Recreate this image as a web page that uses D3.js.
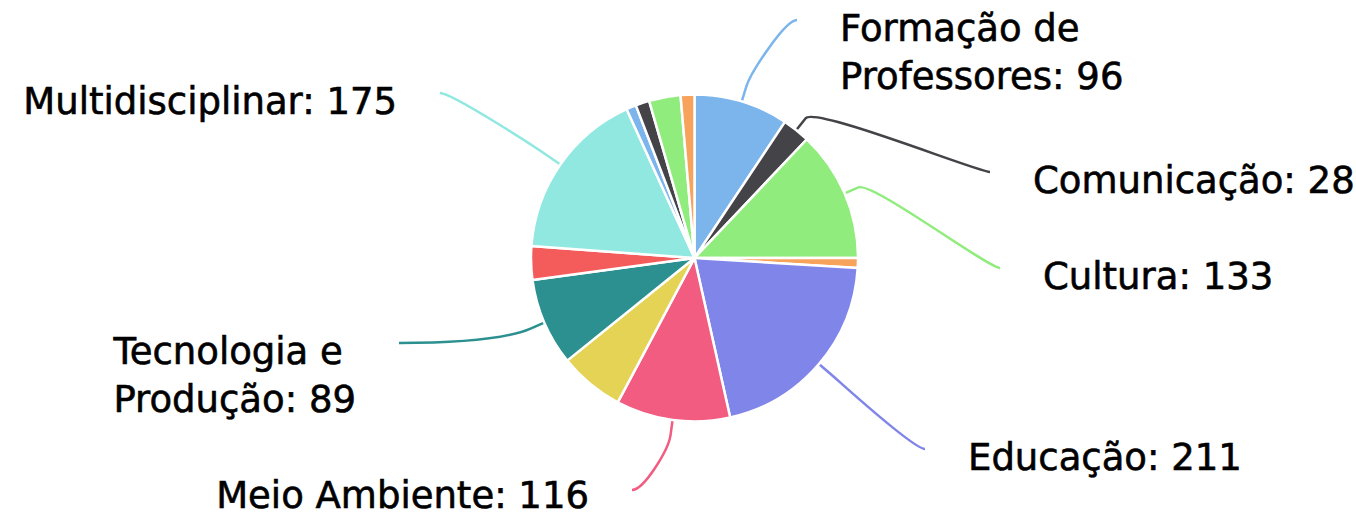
<!DOCTYPE html>
<html lang="pt-BR">
<head>
<meta charset="utf-8">
<script src="https://cdn.jsdelivr.net/npm/d3@7"></script>
<style>
  html, body { margin: 0; padding: 0; background: #fff; }
  svg { display: block; }
  .lbl { font-family: "DejaVu Sans", Verdana, sans-serif; font-size: 37px; fill: #000;
         stroke: #000; stroke-width: 0.6px; }
</style>
</head>
<body>
<svg id="chart" width="1356" height="516"></svg>
<script>
// Projetos por área temática
const categories = [
  "Formação de Professores", "Comunicação", "Cultura", "Direitos Humanos e Justiça",
  "Educação", "Meio Ambiente", "Saúde", "Tecnologia e Produção", "Trabalho",
  "Multidisciplinar", "Esporte", "Inovação", "Desenvolvimento Regional", "Outros"
];
const values = [96, 28, 133, 10, 211, 116, 66, 89, 34, 175, 10, 14, 32, 14];
const palette = [
  "#7cb5ec", "#434348", "#90ed7d", "#f7a35c", "#8085e9",
  "#f15c80", "#e4d354", "#2b908f", "#f45b5b", "#91e8e1"
];
const labelled = [
  "Formação de Professores", "Comunicação", "Cultura", "Educação",
  "Meio Ambiente", "Tecnologia e Produção", "Multidisciplinar"
];

// Layout
const width = 1356, height = 516;
const cx = 694.5, cy = 258, radius = 163.5;
const breakOffset = 15;      // connector bend distance outside the pie
const labelGap = 43;         // space between connector end and text
const lineHeight = 48;
// Connector end points for the labelled slices (label side + position)
const labelLayout = {
  "Formação de Professores": { x: 797, y: 20, side: "right", wrap: 300 },
  "Comunicação":             { x: 990, y: 172, side: "right" },
  "Cultura":                 { x: 1000, y: 268, side: "right" },
  "Educação":                { x: 925, y: 449, side: "right" },
  "Meio Ambiente":           { x: 632, y: 490, side: "left", lift: 3 },
  "Tecnologia e Produção":   { x: 399, y: 343, side: "left", wrap: 270, alignBlock: "start", soft: 90 },
  "Multidisciplinar":        { x: 440, y: 93, side: "left" }
};

const data = categories.map((c, i) => ({ name: c, value: values[i], color: palette[i % palette.length] }));

const svg = d3.select("#chart");
const g = svg.append("g").attr("transform", `translate(${cx},${cy})`);

const pie = d3.pie().sort(null).value(d => d.value).startAngle(0).endAngle(2 * Math.PI);
const arcs = pie(data);
const arc = d3.arc().innerRadius(0).outerRadius(radius);

const polar = (a, r) => [Math.sin(a) * r, -Math.cos(a) * r];

// Soft connectors from each labelled wedge to its label
arcs.filter(a => labelled.includes(a.data.name)).forEach(a => {
  const L = labelLayout[a.data.name];
  const mid = (a.startAngle + a.endAngle) / 2;
  const touch = polar(mid, radius);
  const brk = polar(mid, radius + breakOffset);
  const ctrl2 = polar(mid, radius + 2 * breakOffset);
  const lx = L.x - cx, ly = L.y - cy;
  const soft = L.soft || 12;
  const ctrl1x = lx + (L.side === "right" ? -soft : soft);
  const p = d3.path();
  p.moveTo(lx, ly);
  p.bezierCurveTo(ctrl1x, ly, ctrl2[0], ctrl2[1], brk[0], brk[1]);
  p.lineTo(touch[0], touch[1]);
  g.append("path")
    .attr("d", p.toString())
    .attr("fill", "none")
    .attr("stroke", a.data.color)
    .attr("stroke-width", 2.5);
});

// Wedges
g.selectAll("path.slice")
  .data(arcs)
  .join("path")
  .attr("class", "slice")
  .attr("d", arc)
  .attr("fill", d => d.data.color)
  .attr("stroke", "#fff")
  .attr("stroke-width", 2.5)
  .attr("stroke-linejoin", "round");

// Labels
const labels = svg.append("g");
const measure = s => {
  const probe = labels.append("text").attr("class", "lbl").text(s);
  const w = probe.node().getComputedTextLength();
  probe.remove();
  return w;
};

arcs.filter(a => labelled.includes(a.data.name)).forEach(a => {
  const L = labelLayout[a.data.name];
  const full = `${a.data.name}: ${a.data.value}`;
  const right = L.side === "right";

  // word wrap within the allowed width
  const lines = [];
  if (L.wrap) {
    let cur = "";
    full.split(" ").forEach(w => {
      const test = cur ? cur + " " + w : w;
      if (measure(test) > L.wrap && cur) { lines.push(cur); cur = w; }
      else cur = test;
    });
    lines.push(cur);
  } else lines.push(full);

  // first-line centre sits just below the connector end
  const baseline0 = L.y + 8 + 13 - (L.lift || 0);
  let anchorX, anchor;
  if (right) { anchorX = L.x + labelGap; anchor = "start"; }
  else if (L.alignBlock === "start") {
    const w = d3.max(lines, measure);
    anchorX = L.x - labelGap - w; anchor = "start";
  } else { anchorX = L.x - labelGap; anchor = "end"; }

  const t = labels.append("text").attr("class", "lbl").attr("text-anchor", anchor);
  lines.forEach((s, i) => {
    t.append("tspan").attr("x", anchorX).attr("y", baseline0 + i * lineHeight).text(s);
  });
});
</script>
</body>
</html>
